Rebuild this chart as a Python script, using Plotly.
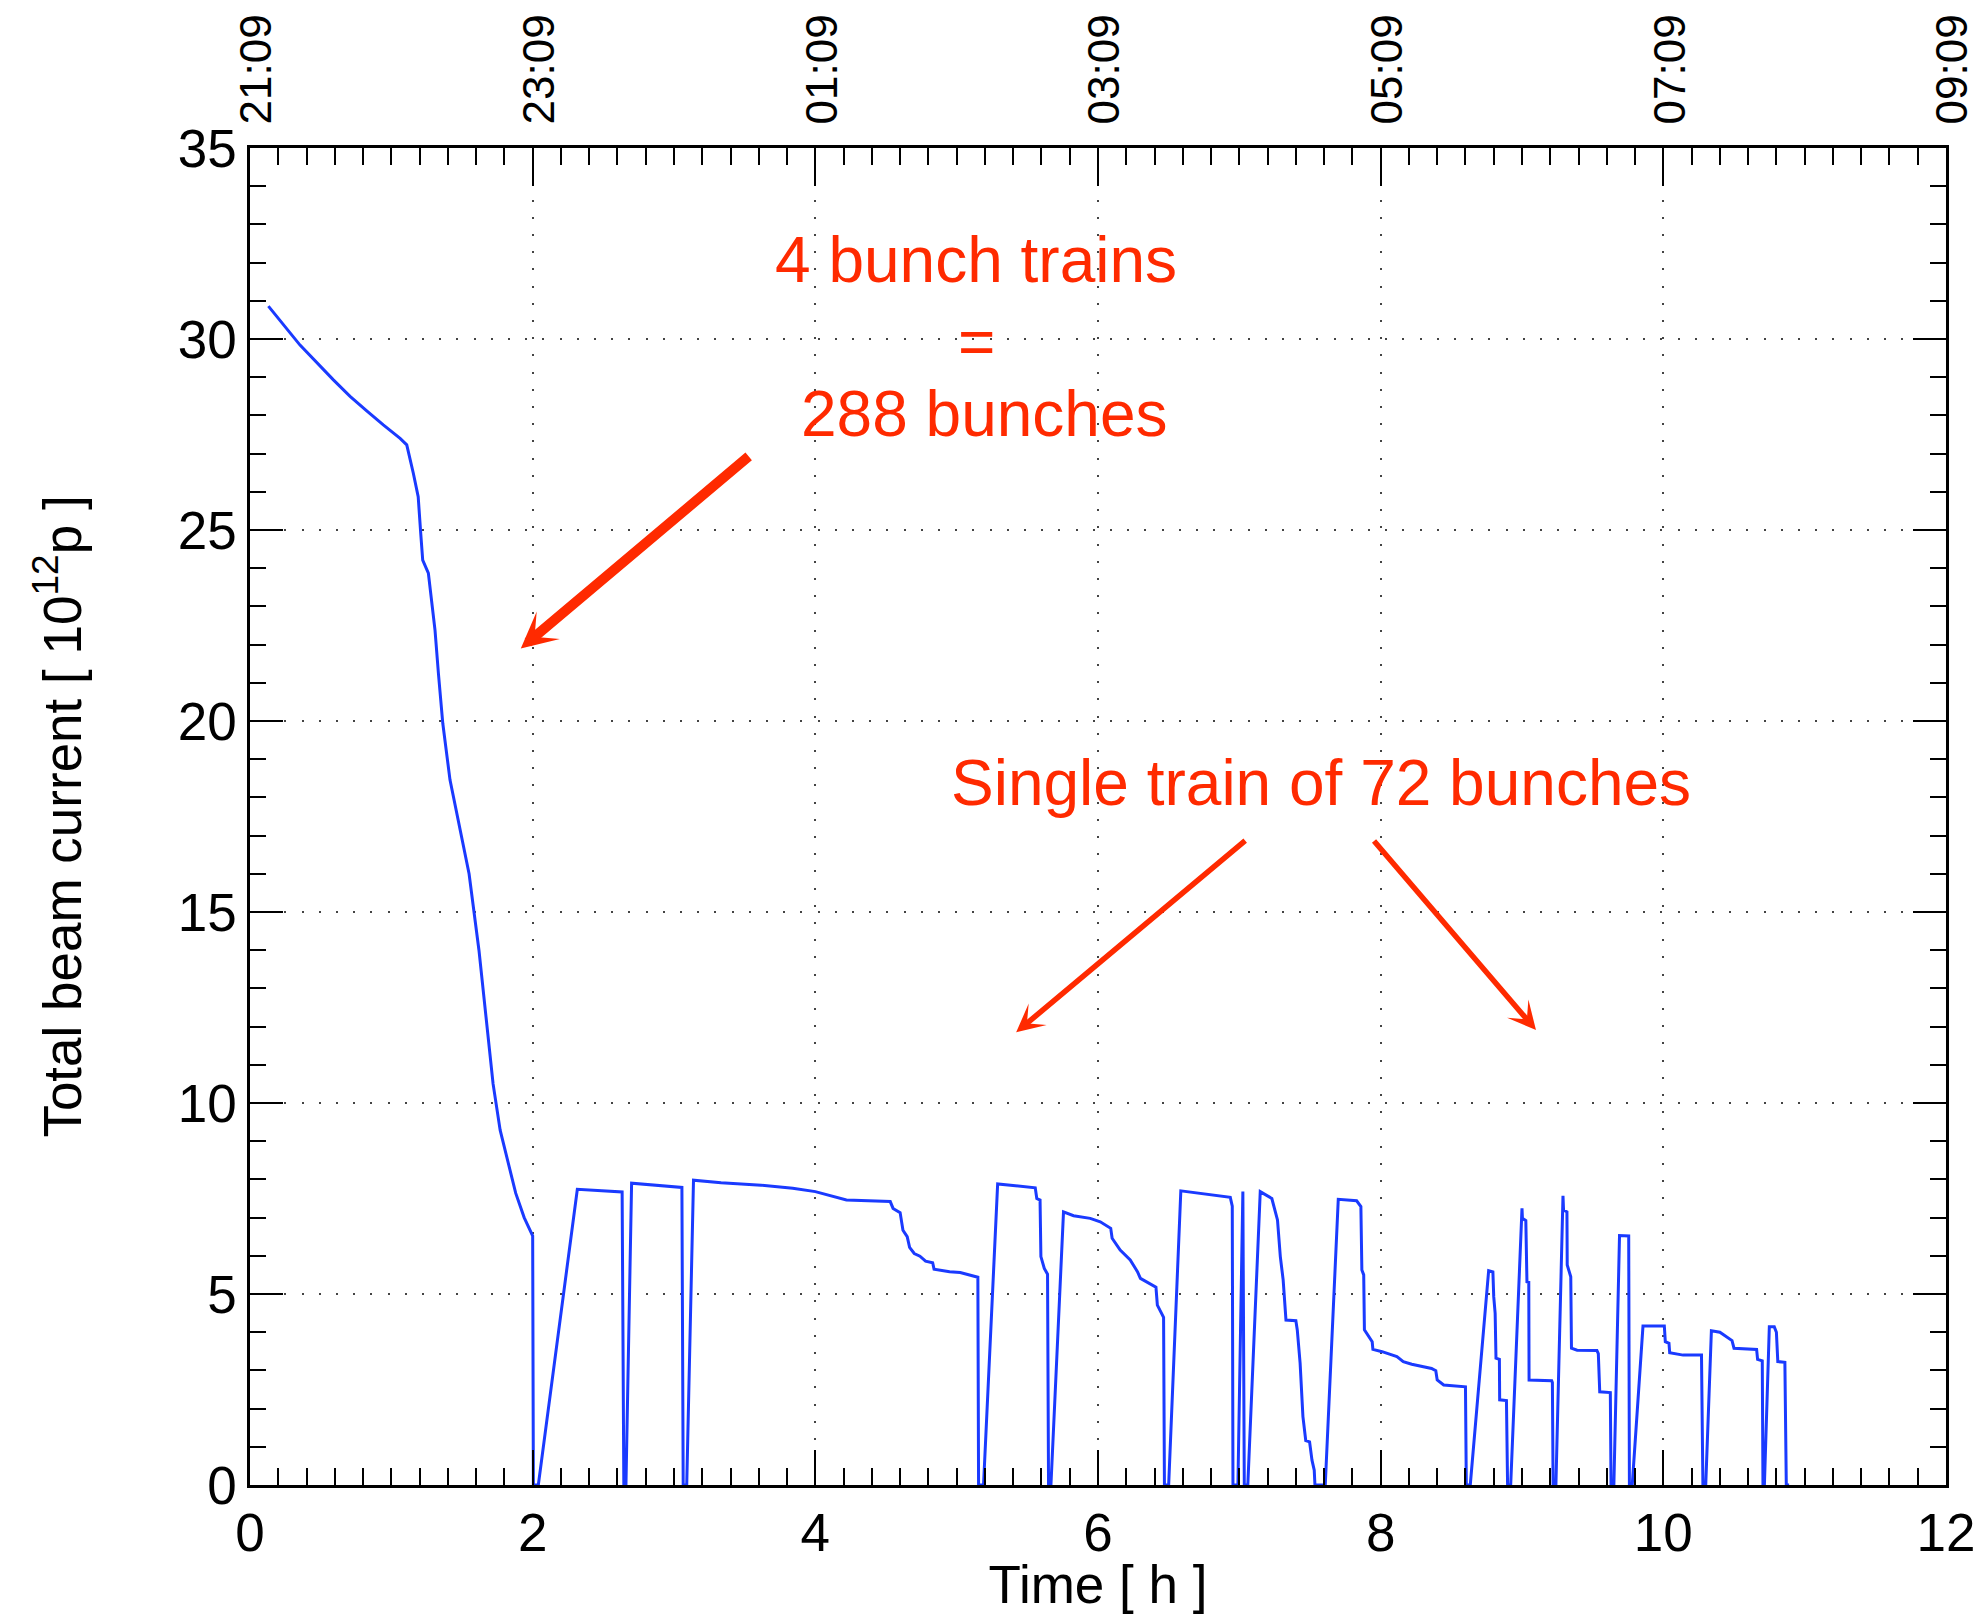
import plotly.graph_objects as go

# Beam current record: elapsed time [h] and total current [1e12 p]
time_h = [
    0.13, 0.236, 0.354, 0.59, 0.708, 0.826, 0.943, 1.062, 1.109, 1.156, 1.19,
    1.208, 1.222, 1.262, 1.309, 1.333, 1.364, 1.415, 1.55, 1.62, 1.68, 1.72,
    1.77, 1.83, 1.88, 1.94, 2.0,
    2.005, 2.04, 2.316, 2.633, 2.645, 2.66, 2.70, 3.056, 3.065, 3.09, 3.138,
    3.333, 3.617, 3.84, 4.0, 4.22, 4.53, 4.55, 4.60, 4.62, 4.65, 4.667, 4.70,
    4.74, 4.78, 4.83, 4.84, 4.95, 5.025, 5.15, 5.155, 5.19, 5.29, 5.556, 5.567,
    5.59, 5.596, 5.62, 5.643, 5.65, 5.667, 5.756, 5.827, 5.945, 6.016, 6.09,
    6.10, 6.157, 6.228, 6.28, 6.30, 6.357, 6.41, 6.42, 6.44, 6.464, 6.47, 6.50,
    6.586, 6.936, 6.95, 6.952, 6.955, 6.99, 7.025, 7.035, 7.06, 7.148, 7.23,
    7.27, 7.29, 7.31, 7.33, 7.40, 7.41, 7.43, 7.45, 7.47, 7.497, 7.514, 7.53,
    7.535, 7.608, 7.70, 7.83, 7.86, 7.867, 7.88, 7.885, 7.94, 7.945, 8.01,
    8.115, 8.16, 8.22, 8.36, 8.39, 8.40, 8.446, 8.60, 8.606, 8.634, 8.764,
    8.794, 8.80, 8.81, 8.816, 8.84, 8.842, 8.89, 8.898, 8.92, 9.0, 9.003,
    9.027, 9.035, 9.048, 9.05, 9.21, 9.215, 9.22, 9.24, 9.29, 9.294, 9.318,
    9.32, 9.345, 9.35, 9.39, 9.53, 9.54, 9.55, 9.625, 9.63, 9.65, 9.69, 9.755,
    9.76, 9.78, 9.856, 10.007, 10.014, 10.04, 10.045, 10.14, 10.27, 10.28,
    10.30, 10.34, 10.40, 10.45, 10.486, 10.50, 10.66, 10.667, 10.70, 10.705,
    10.715, 10.75, 10.785, 10.80, 10.81, 10.86, 10.87, 10.89,
]
beam_current = [
    30.86, 30.37, 29.84, 28.93, 28.5, 28.12, 27.75, 27.4, 27.23, 26.48, 25.87,
    24.91, 24.21, 23.87, 22.38, 21.25, 19.94, 18.46, 16.0, 14.0, 11.9, 10.5,
    9.29, 8.4, 7.64, 7.0, 6.52,
    0.0, 0.0, 7.74, 7.67, 0.0, 0.0, 7.90, 7.79, 0.0, 0.0, 7.98,
    7.91, 7.85, 7.77, 7.68, 7.46, 7.42, 7.24, 7.13, 6.67, 6.5, 6.22, 6.06,
    5.99, 5.86, 5.82, 5.65, 5.58, 5.56, 5.44, 0.0, 0.0, 7.88, 7.78, 7.50,
    7.46, 5.98, 5.67, 5.52, 0.0, 0.0, 7.15, 7.05, 6.98, 6.89, 6.72,
    6.46, 6.15, 5.89, 5.58, 5.41, 5.30, 5.18, 4.71, 4.58, 4.39, 0.0, 0.0,
    7.70, 7.53, 7.3, 4.76, 0.0, 0.0, 7.68, 0.0, 0.0, 7.68, 7.50,
    6.94, 5.98, 5.37, 4.32, 4.30, 4.06, 3.19, 1.79, 1.16, 1.13, 0.65, 0.39,
    0.0, 0.0, 7.48, 7.44, 7.29, 5.63, 5.50, 4.06, 3.75, 3.55, 3.49,
    3.36, 3.23, 3.16, 3.05, 2.99, 2.75, 2.62, 2.57, 0.0, 0.0, 5.61,
    5.58, 4.93, 4.49, 3.32, 3.29, 2.23, 2.21, 0.0, 0.0, 7.24, 6.98,
    6.92, 5.32, 5.31, 2.75, 2.73, 2.68, 0.0, 0.0, 7.57, 7.2, 7.15,
    5.76, 5.45, 3.58, 3.53, 3.52, 3.44, 2.44, 2.42, 0.0, 0.0, 6.53, 6.52,
    0.0, 0.0, 4.16, 4.16, 3.75, 3.71, 3.46, 3.40, 3.40, 0.0,
    0.0, 4.04, 4.0, 3.88, 3.78, 3.58, 3.55, 3.29, 3.25, 0.0,
    0.0, 4.14, 4.14, 4.0, 3.23, 3.21, 0.0, 0.0,
]

# Wall-clock labels for the top axis
clock_tickvals = [0, 2, 4, 6, 8, 10, 12]
clock_ticktext = ["21:09", "23:09", "01:09", "03:09", "05:09", "07:09", "09:09"]

FONT = "Liberation Sans, Arial, Helvetica, sans-serif"
RED = "#ff2a00"
BLUE = "#1a3aff"

fig = go.Figure()
fig.add_trace(go.Scatter(
    x=time_h, y=beam_current, mode="lines",
    line=dict(color=BLUE, width=3), showlegend=False, hoverinfo="skip",
))
# helper trace so the top clock axis is drawn
fig.add_trace(go.Scatter(
    x=[0, 12], y=[0, 0], xaxis="x2", mode="lines", opacity=0,
    showlegend=False, hoverinfo="skip",
))

grid = dict(showgrid=True, gridcolor="#444444", gridwidth=1.6, griddash="2px,15.2px")

fig.update_layout(
    width=1987, height=1614,
    margin=dict(l=250, r=41, t=148, b=129, autoexpand=False),
    paper_bgcolor="white", plot_bgcolor="white",
    font=dict(family=FONT, color="black", size=53),
    xaxis=dict(
        range=[0, 12], dtick=2, tick0=0, showline=True, linecolor="black",
        linewidth=2.5, mirror=False, ticks="inside", ticklen=35, tickwidth=2,
        tickcolor="black", tickfont=dict(size=53), zeroline=False,
        minor=dict(dtick=0.2, ticks="inside", ticklen=17, tickwidth=2,
                   tickcolor="black", showgrid=False),
        title=dict(text="Time [ h ]", font=dict(size=53), standoff=10),
        **grid,
    ),
    xaxis2=dict(
        range=[0, 12], overlaying="x", side="top", anchor="y",
        tickmode="array", tickvals=clock_tickvals, ticktext=clock_ticktext,
        tickangle=-90, showline=True, linecolor="black", linewidth=2.5,
        ticks="inside", ticklen=38, tickwidth=2, tickcolor="black",
        tickfont=dict(size=44), ticklabelstandoff=12, ticklabelshift=7,
        showgrid=False, zeroline=False,
        minor=dict(tickmode="linear", tick0=0, dtick=0.2, ticks="inside",
                   ticklen=17, tickwidth=2, tickcolor="black", showgrid=False),
    ),
    yaxis=dict(
        range=[0, 35], dtick=5, tick0=0, showline=True, linecolor="black",
        linewidth=2.5, mirror="ticks", ticks="inside", ticklen=33, tickwidth=2,
        tickcolor="black", tickfont=dict(size=53), zeroline=False,
        minor=dict(dtick=1, ticks="inside", ticklen=16, tickwidth=2,
                   tickcolor="black", showgrid=False),
        title=dict(text="Total beam current [ 10<sup>12</sup>p ]",
                   font=dict(size=53), standoff=80),
        **grid,
    ),
)

# Red text labels
labels = [
    ("4 bunch trains", 5.14, 32.07),
    ("=", 5.14, 29.93),
    ("288 bunches", 5.20, 28.04),
    ("Single train of 72 bunches", 7.58, 18.38),
]
for text, lx, ly in labels:
    fig.add_annotation(x=lx, y=ly, xref="x", yref="y", text=text,
                       showarrow=False, font=dict(family=FONT, size=64, color=RED),
                       xanchor="center", yanchor="middle")

# Red arrows: (tip x, tip y, tail x, tail y, line width, head size)
arrows = [
    (1.916, 21.90, 3.539, 26.96, 10, 0.6),
    (5.421, 11.85, 7.052, 16.90, 5.5, 0.85),
    (9.099, 11.91, 7.944, 16.90, 5.5, 0.85),
]
for tx, ty, sx, sy, w, hs in arrows:
    fig.add_annotation(x=tx, y=ty, ax=sx, ay=sy, xref="x", yref="y",
                       axref="x", ayref="y", text="", showarrow=True,
                       arrowhead=3, arrowsize=hs, arrowwidth=w, arrowcolor=RED)

fig.write_html("out.html")
